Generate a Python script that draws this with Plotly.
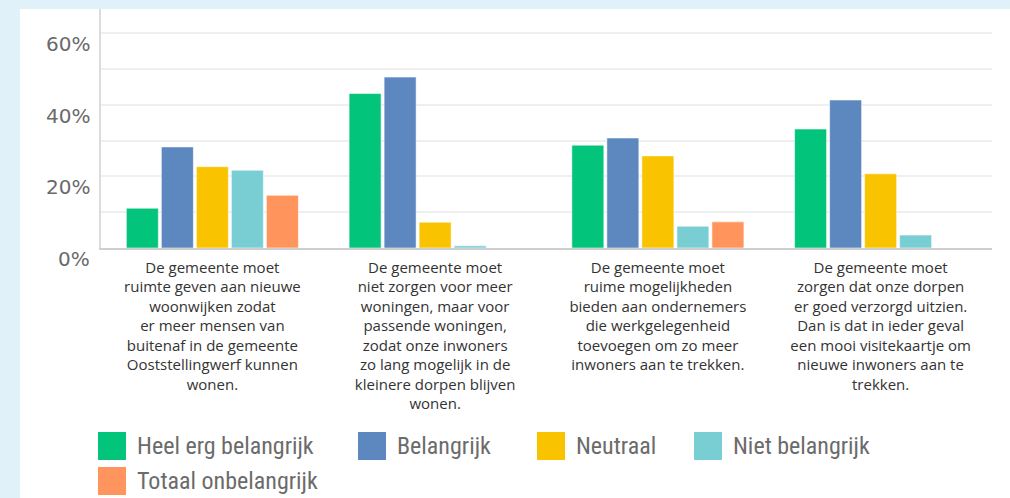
import plotly.graph_objects as go

categories = [
    "De gemeente moet<br>ruimte geven aan nieuwe<br>woonwijken zodat<br>er meer mensen van<br>buitenaf in de gemeente<br>Ooststellingwerf kunnen<br>wonen.",
    "De gemeente moet<br>niet zorgen voor meer<br>woningen, maar voor<br>passende woningen,<br>zodat onze inwoners<br>zo lang mogelijk in de<br>kleinere dorpen blijven<br>wonen.",
    "De gemeente moet<br>ruime mogelijkheden<br>bieden aan ondernemers<br>die werkgelegenheid<br>toevoegen om zo meer<br>inwoners aan te trekken.",
    "De gemeente moet<br>zorgen dat onze dorpen<br>er goed verzorgd uitzien.<br>Dan is dat in ieder geval<br>een mooi visitekaartje om<br>nieuwe inwoners aan te<br>trekken.",
]
cat_ids = ["c1", "c2", "c3", "c4"]

series_names = ["Heel erg belangrijk", "Belangrijk", "Neutraal", "Niet belangrijk", "Totaal onbelangrijk"]
heel_erg_belangrijk = [11.1, 43.1, 28.7, 33.2]
belangrijk = [28.2, 47.7, 30.7, 41.3]
neutraal = [22.7, 7.2, 25.7, 20.7]
niet_belangrijk = [21.7, 0.6, 6.1, 3.6]
totaal_onbelangrijk = [14.7, 0.0, 7.3, 0.0]
series_values = [heel_erg_belangrijk, belangrijk, neutraal, niet_belangrijk, totaal_onbelangrijk]
colors = ["#02c47b", "#5c87bf", "#f9c300", "#78ced2", "#ff955c"]

y_tick_vals = [0, 20, 40, 60]
y_tick_text = ["0%", "20%", "40%", "60%"]

W, H = 1010, 498

fig = go.Figure()
for name, vals, col in zip(series_names, series_values, colors):
    fig.add_trace(go.Bar(
        x=cat_ids, y=vals, name=name,
        marker=dict(color=col, line=dict(color="rgba(255,255,255,0.55)", width=1)),
        showlegend=False, hoverinfo="y+name",
    ))

x0p, x1p = 101 / W, 992 / W
ytop, ybot = 1 - 9 / H, 1 - 248 / H

shapes = [dict(type="rect", xref="paper", yref="paper", x0=20 / W, x1=1, y0=0, y1=ytop,
               fillcolor="white", line=dict(width=0), layer="below")]
annotations = []
for v, t in zip(y_tick_vals, y_tick_text):
    annotations.append(dict(x=92 / W, xref="paper", y=v, yref="y", yshift=-11, text=t,
                            showarrow=False, xanchor="right", yanchor="middle",
                            font=dict(family="DejaVu Sans, sans-serif", size=20, color="#6a6a6a")))

# custom legend
leg_font = dict(family="Liberation Sans Narrow, Roboto Condensed, DejaVu Sans Condensed, sans-serif",
                size=24, color="#6b6b6b")
legend_pos = [(98, 446), (358, 446), (537, 446), (694, 446), (98, 481)]
for (lx, ly), name, col in zip(legend_pos, series_names, colors):
    shapes.append(dict(type="rect", xref="paper", yref="paper",
                       x0=lx / W, x1=(lx + 28) / W, y0=1 - (ly + 14) / H, y1=1 - (ly - 14) / H,
                       fillcolor=col, line=dict(width=0), layer="above"))
    annotations.append(dict(x=(lx + 37) / W, xref="paper", y=1 - ly / H, yref="paper", text=name,
                            showarrow=False, xanchor="left", yanchor="middle", font=leg_font))

fig.update_layout(
    width=W, height=H,
    margin=dict(l=0, r=0, t=0, b=0),
    paper_bgcolor="#e1f1f9",
    plot_bgcolor="white",
    barmode="group", bargap=0.214, bargroupgap=0.086,
    shapes=shapes, annotations=annotations,
    xaxis=dict(domain=[x0p, x1p], type="category", tickvals=cat_ids, ticktext=categories,
               showline=True, linecolor="#cfcfcf", linewidth=1.5, showgrid=False, ticks="",
               tickfont=dict(family="Open Sans, sans-serif", size=15, color="#333333"),
               tickangle=0, ticklabelstandoff=5, fixedrange=True),
    yaxis=dict(domain=[ybot, ytop], range=[0, 66.7], dtick=10, showticklabels=False,
               showgrid=True, gridcolor="#efefef", gridwidth=1.5, zeroline=False,
               showline=True, linecolor="#dcdcdc", linewidth=1.5, ticks="", fixedrange=True),
)

fig.write_html("out.html", config={"displayModeBar": False},
               post_script="document.body.style.margin='0';document.body.style.overflow='hidden';")
